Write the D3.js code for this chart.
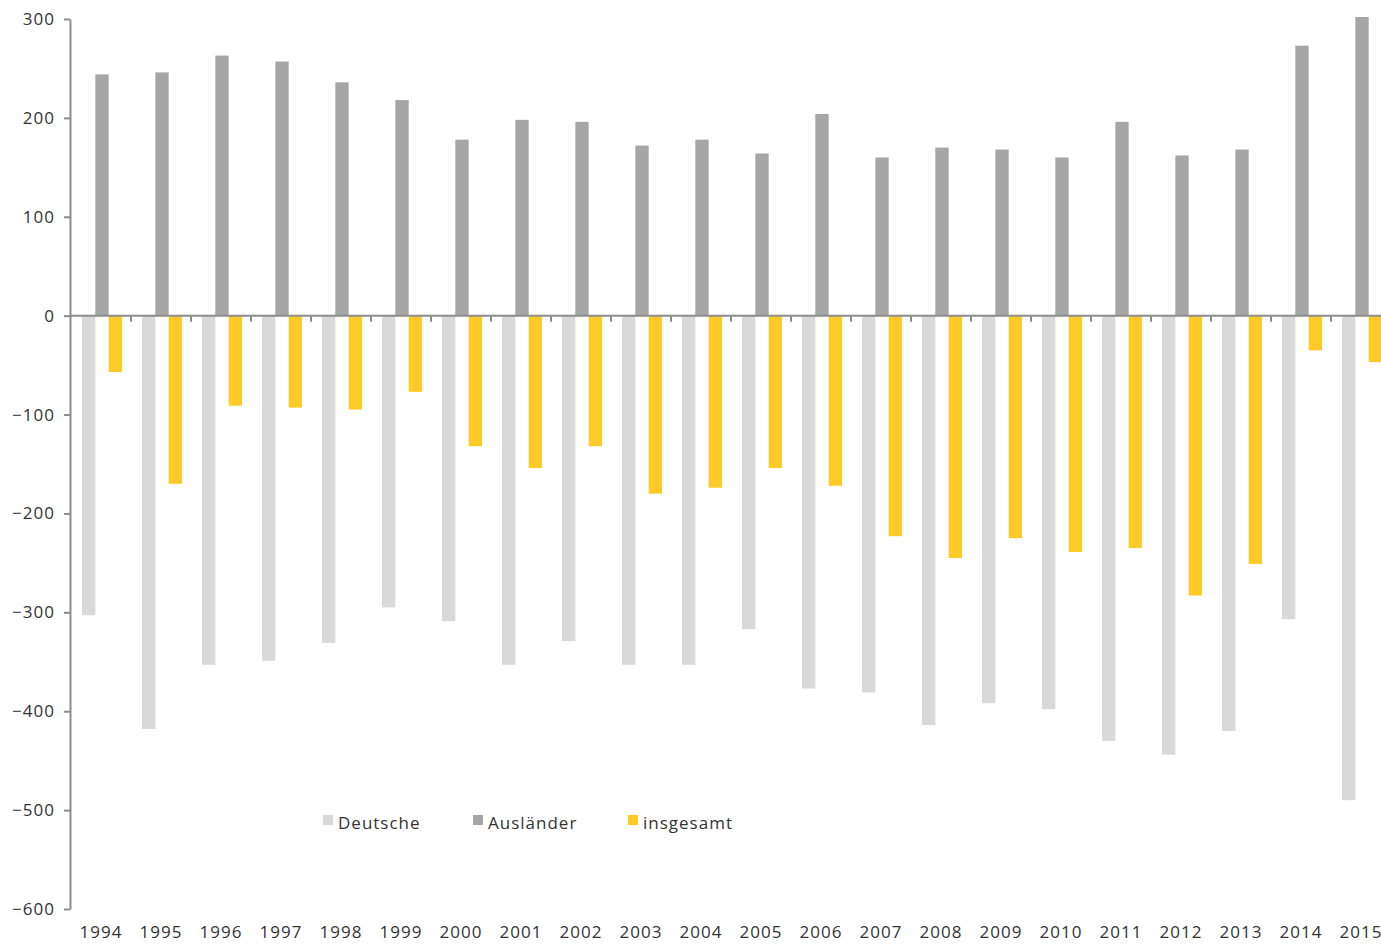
<!DOCTYPE html>
<html><head><meta charset="utf-8">
<script src="https://cdn.jsdelivr.net/npm/d3@7"></script>
<style>body{margin:0;background:#fff;overflow:hidden}</style>
</head><body>
<svg id="chart" width="1381" height="944"></svg>
<script>
const years = ["1994","1995","1996","1997","1998","1999","2000","2001","2002","2003","2004","2005","2006","2007","2008","2009","2010","2011","2012","2013","2014","2015"];
const deutsche = [-303,-418,-353,-349,-331,-295,-309,-353,-329,-353,-353,-317,-377,-381,-414,-392,-398,-430,-444,-420,-307,-490];
const auslaender = [244,246,263,257,236,218,178,198,196,172,178,164,204,160,170,168,160,196,162,168,273,302];
const insgesamt = [-57,-170,-91,-93,-95,-77,-132,-154,-132,-180,-174,-154,-172,-223,-245,-225,-239,-235,-283,-251,-35,-47];
const yTicks = [300,200,100,0,-100,-200,-300,-400,-500,-600];
const seriesNames = ["Deutsche","Ausländer","insgesamt"];
const colors = ["#d9d9d9","#a6a6a6","#ffca28"];

const svg = d3.select("#chart");
const font = "'Open Sans', sans-serif";
const textColor = "#333";
const axisColor = "#8c8c8c";

const y = d3.scaleLinear().domain([-600,300]).range([909,19]);
const x = d3.scaleBand().domain(years).range([71,1391]).paddingInner(0).paddingOuter(0);
const inner = d3.scaleBand().domain(seriesNames).range([11, 51]);

const series = [deutsche, auslaender, insgesamt];

// bars
series.forEach((vals, si) => {
  svg.append("g").selectAll("rect").data(years).join("rect")
    .attr("x", (d) => x(d) + inner(seriesNames[si]))
    .attr("width", inner.bandwidth())
    .attr("y", (d,i) => y(Math.max(0, vals[i])))
    .attr("height", (d,i) => Math.abs(y(vals[i]) - y(0)))
    .attr("fill", colors[si]);
});

// y axis
const yAxis = d3.axisLeft(y).tickValues(yTicks).tickSize(6).tickSizeOuter(0).tickPadding(9);
const gy = svg.append("g").attr("transform","translate(70,0)").call(yAxis);
gy.select(".domain").attr("stroke", axisColor).attr("stroke-width", 2);
gy.selectAll(".tick line").attr("stroke", axisColor).attr("stroke-width", 2);
gy.selectAll(".tick text").attr("fill", textColor).style("font-family", font).style("font-size","17px").style("letter-spacing","1px");

// zero line with category ticks
svg.append("line").attr("x1",70).attr("x2",1381).attr("y1",y(0)).attr("y2",y(0))
  .attr("stroke", axisColor).attr("stroke-width", 2);
svg.append("g").selectAll("line").data(years.slice(1)).join("line")
  .attr("x1", d => x(d)).attr("x2", d => x(d))
  .attr("y1", y(0)).attr("y2", y(0) + 6)
  .attr("stroke", axisColor).attr("stroke-width", 2);

// category labels
svg.append("g").selectAll("text").data(years).join("text")
  .attr("x", d => x(d) + x.bandwidth()/2)
  .attr("y", 938)
  .attr("text-anchor","middle")
  .attr("fill", textColor)
  .style("font-family", font).style("font-size","17px").style("letter-spacing","1px")
  .text(d => d);

// legend
const legendX = [323, 473, 628];
seriesNames.forEach((n, i) => {
  svg.append("rect").attr("x", legendX[i]).attr("y", 815).attr("width", 10).attr("height", 10).attr("fill", colors[i]);
  svg.append("text").attr("x", legendX[i] + 15).attr("y", 829)
    .attr("fill", textColor).style("font-family", font).style("font-size","17px").style("letter-spacing","1px")
    .text(n);
});
</script>
</body></html>
